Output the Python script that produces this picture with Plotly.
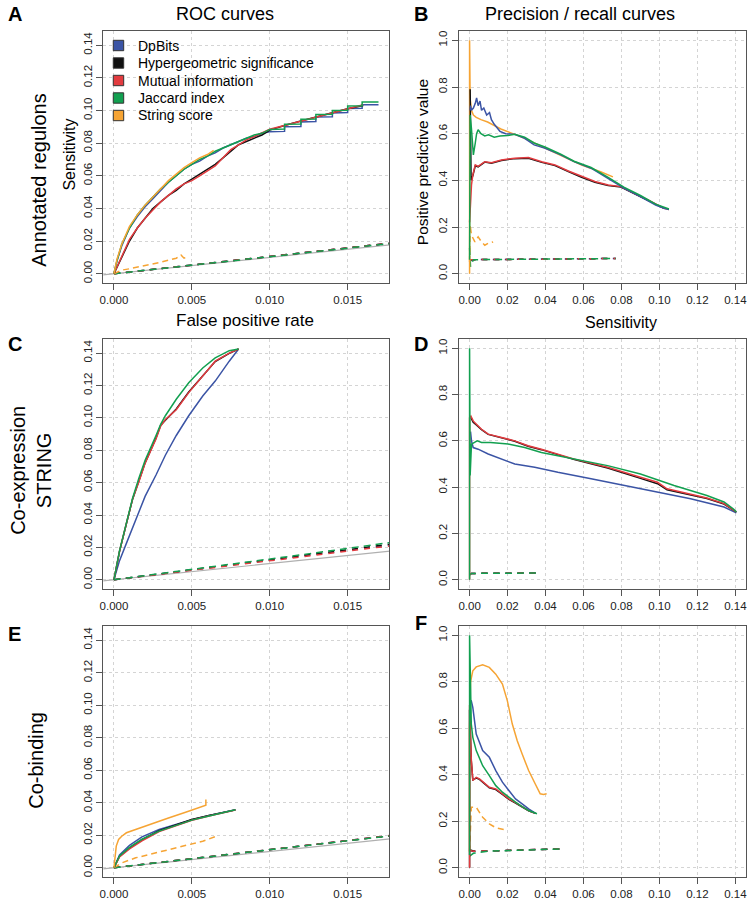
import plotly.graph_objects as go

# ---------------- colours / names ----------------
methods = ["DpBits", "Hypergeometric significance", "Mutual information", "Jaccard index", "String score"]
colors = {"blue": "#3B54A5", "black": "#111111", "red": "#E23B3F", "green": "#12A050", "orange": "#F6A434"}

# ---------------- Panel A: ROC, annotated regulons ----------------
A_step_x = [0, 0.0002, 0.0005, 0.001, 0.0015, 0.002, 0.0025, 0.003, 0.0035, 0.004, 0.0045, 0.005, 0.0055,
            0.006, 0.0065, 0.007, 0.0075, 0.008, 0.0085, 0.009, 0.0095, 0.0100, 0.01095, 0.01095, 0.0120,
            0.0120, 0.01296, 0.01296, 0.01402, 0.01402, 0.0150, 0.0150, 0.01593, 0.01593, 0.01698]
A_blue_y = [0, 0.008, 0.017, 0.028, 0.035, 0.041, 0.046, 0.051, 0.056, 0.060, 0.064, 0.067, 0.069, 0.072,
            0.074, 0.077, 0.079, 0.081, 0.083, 0.084, 0.086, 0.0870, 0.0872, 0.0900, 0.0902, 0.0930, 0.0932,
            0.0960, 0.0962, 0.0985, 0.0987, 0.1012, 0.1014, 0.1035, 0.1035]
A_green_y = [0, 0.008, 0.018, 0.028, 0.036, 0.042, 0.047, 0.052, 0.056, 0.060, 0.064, 0.067, 0.070, 0.072,
             0.075, 0.077, 0.079, 0.081, 0.083, 0.085, 0.086, 0.0884, 0.0886, 0.0915, 0.0917, 0.0946, 0.0948,
             0.0975, 0.0977, 0.1000, 0.1002, 0.1027, 0.1029, 0.1052, 0.1052]
A_mi_x = [0, 0.0002, 0.0005, 0.001, 0.0015, 0.002, 0.0025, 0.003, 0.0035, 0.004, 0.0045, 0.005, 0.0055, 0.006,
          0.0065, 0.007, 0.0075, 0.008, 0.0085, 0.009, 0.0095, 0.010, 0.011, 0.012, 0.013, 0.014, 0.015, 0.016]
A_red_y = [0, 0.004, 0.011, 0.021, 0.028, 0.034, 0.039, 0.044, 0.048, 0.052, 0.055, 0.057, 0.060, 0.063,
           0.066, 0.071, 0.076, 0.079, 0.082, 0.084, 0.086, 0.0885, 0.091, 0.0935, 0.096, 0.0985, 0.101, 0.1035]
A_black_y = [0, 0.004, 0.011, 0.020, 0.028, 0.034, 0.040, 0.044, 0.048, 0.051, 0.055, 0.058, 0.061, 0.064,
             0.067, 0.071, 0.075, 0.079, 0.081, 0.083, 0.085, 0.0880, 0.091, 0.0935, 0.096, 0.0985, 0.101, 0.103]
A_orange_x = [0, 0.0002, 0.0005, 0.001, 0.0015, 0.002, 0.0025, 0.003, 0.0035, 0.004, 0.0045, 0.005, 0.0055, 0.006, 0.0064]
A_orange_y = [0, 0.009, 0.018, 0.029, 0.036, 0.042, 0.047, 0.052, 0.057, 0.061, 0.065, 0.068, 0.071, 0.073, 0.0755]
A_orange_rnd_x = [0, 0.0005, 0.001, 0.002, 0.003, 0.004, 0.0043, 0.0045, 0.0047]
A_orange_rnd_y = [0, 0.0022, 0.003, 0.005, 0.007, 0.0095, 0.0115, 0.0095, 0.0105]
A_rnd_x = [0, 0.005, 0.010, 0.015, 0.020]
A_rnd_y = {"blue": [0, 0.0053, 0.0106, 0.0158, 0.0211], "black": [0, 0.0053, 0.0106, 0.0158, 0.0211],
           "red": [0, 0.0053, 0.0106, 0.0158, 0.0211], "green": [0, 0.0052, 0.0105, 0.0157, 0.0209]}

# ---------------- Panel B: PR, annotated regulons ----------------
B_blue_x = [0.0003, 0.0005, 0.001, 0.002, 0.003, 0.0037, 0.0045, 0.0055, 0.0063, 0.0075, 0.009, 0.0105, 0.0115,
            0.013, 0.016, 0.019, 0.0238, 0.029, 0.034, 0.0395, 0.048, 0.055, 0.064, 0.073, 0.0815, 0.090,
            0.098, 0.1024, 0.105]
B_blue_y = [0.70, 0.72, 0.70, 0.71, 0.73, 0.753, 0.72, 0.74, 0.70, 0.71, 0.68, 0.69, 0.66, 0.64, 0.61, 0.60,
            0.597, 0.58, 0.552, 0.538, 0.509, 0.48, 0.452, 0.409, 0.366, 0.33, 0.294, 0.28, 0.275]
B_black_x = [0.0003, 0.0008, 0.0017, 0.003, 0.0045, 0.007, 0.008, 0.0115, 0.0168, 0.0238, 0.031, 0.038, 0.045,
             0.052, 0.059, 0.066, 0.073, 0.0797, 0.0867, 0.094, 0.1024]
B_black_y = [0.79, 0.40, 0.42, 0.462, 0.458, 0.47, 0.478, 0.473, 0.485, 0.493, 0.495, 0.477, 0.463, 0.438,
             0.413, 0.392, 0.378, 0.371, 0.343, 0.315, 0.28]
B_red_x = [0, 0.0005, 0.001, 0.0017, 0.003, 0.0045, 0.007, 0.008, 0.0115, 0.0168, 0.0238, 0.031, 0.038, 0.045,
           0.052, 0.059, 0.066, 0.073, 0.0797, 0.0867, 0.094, 0.1024, 0.105]
B_red_y = [0.22, 0.308, 0.38, 0.423, 0.466, 0.46, 0.473, 0.48, 0.475, 0.487, 0.495, 0.498, 0.48, 0.466, 0.44,
           0.416, 0.395, 0.38, 0.373, 0.344, 0.316, 0.28, 0.275]
B_green_x = [0, 0.0003, 0.001, 0.002, 0.003, 0.0037, 0.0045, 0.006, 0.008, 0.010, 0.013, 0.016, 0.020, 0.0238,
             0.029, 0.034, 0.040, 0.048, 0.055, 0.064, 0.073, 0.0815, 0.090, 0.098, 0.105]
B_green_y = [0.06, 0.68, 0.62, 0.509, 0.56, 0.60, 0.617, 0.60, 0.59, 0.595, 0.585, 0.59, 0.592, 0.597, 0.585,
             0.56, 0.542, 0.512, 0.482, 0.455, 0.413, 0.37, 0.335, 0.298, 0.277]
B_orange_x = [0, 0, 0.0003, 0.001, 0.002, 0.0035, 0.006, 0.0095, 0.013, 0.0165, 0.0238, 0.029, 0.038, 0.048,
              0.059, 0.069, 0.0736, 0.0755]
B_orange_y = [0.0, 1.0, 0.75, 0.70, 0.68, 0.67, 0.66, 0.65, 0.635, 0.62, 0.597, 0.58, 0.545, 0.509, 0.466,
              0.437, 0.42, 0.415]
B_orange_rnd_x = [0, 0.0003, 0.001, 0.0028, 0.0045, 0.0063, 0.008, 0.0098, 0.0124]
B_orange_rnd_y = [0.05, 0.21, 0.165, 0.136, 0.158, 0.136, 0.122, 0.13, 0.136]
B_rnd_x = [0, 0.0005, 0.002, 0.02, 0.04, 0.06, 0.077]
B_rnd_y = {"blue": [0.06, 0.055, 0.06, 0.061, 0.062, 0.064, 0.065], "black": [0.06, 0.06, 0.06, 0.061, 0.062, 0.064, 0.065],
           "red": [0.06, 0.06, 0.06, 0.061, 0.062, 0.064, 0.065], "green": [0.11, 0.03, 0.06, 0.061, 0.062, 0.064, 0.065]}

# ---------------- Panel C: ROC, co-expression STRING ----------------
C_x = [0, 0.00036, 0.00078, 0.0012, 0.0016, 0.0020, 0.0027, 0.0030, 0.0033, 0.004, 0.0048, 0.0057, 0.0065,
       0.0074, 0.0080]
C_green_y = [0, 0.0179, 0.0342, 0.0505, 0.0627, 0.0738, 0.0891, 0.0960, 0.1013, 0.1115, 0.1217, 0.1308, 0.137,
             0.1415, 0.1425]
C_red_y = [0, 0.0175, 0.034, 0.050, 0.0606, 0.072, 0.087, 0.095, 0.099, 0.105, 0.1156, 0.1257, 0.135, 0.140, 0.1425]
C_black_y = [0, 0.0176, 0.0338, 0.0498, 0.0610, 0.0722, 0.0875, 0.0955, 0.0985, 0.1055, 0.1160, 0.1260, 0.1348,
             0.1398, 0.1425]
C_blue_y = [0, 0.0118, 0.022, 0.032, 0.0423, 0.0515, 0.0647, 0.0710, 0.0769, 0.0891, 0.1013, 0.1135, 0.1227,
            0.1350, 0.1425]
C_rnd_x = [0, 0.004, 0.008, 0.012, 0.016, 0.020]
C_rnd_y = {"blue": [0, 0.0047, 0.0096, 0.0145, 0.0194, 0.0243], "black": [0, 0.0048, 0.0098, 0.0148, 0.0198, 0.0248],
           "red": [0, 0.0046, 0.0093, 0.0141, 0.0189, 0.0236], "green": [0, 0.0050, 0.0102, 0.0154, 0.0207, 0.0260]}

# ---------------- Panel D: PR, co-expression STRING ----------------
D_green_x = [0, 0, 0.0003, 0.001, 0.0025, 0.004, 0.0063, 0.011, 0.0203, 0.029, 0.0378, 0.0552, 0.0727, 0.090,
             0.1077, 0.125, 0.134, 0.139, 0.1405]
D_green_y = [0.0, 1.0, 0.45, 0.586, 0.593, 0.60, 0.593, 0.593, 0.586, 0.571, 0.55, 0.521, 0.493, 0.457, 0.407,
             0.364, 0.336, 0.305, 0.293]
D_red_x = [0, 0, 0.0007, 0.0019, 0.0037, 0.0063, 0.0098, 0.0168, 0.0238, 0.0308, 0.0378, 0.0552, 0.0727, 0.090,
           0.099, 0.104, 0.1164, 0.125, 0.134, 0.1405]
D_red_y = [0.0, 0.70, 0.707, 0.686, 0.671, 0.65, 0.629, 0.614, 0.60, 0.579, 0.564, 0.521, 0.486, 0.443, 0.421,
           0.393, 0.371, 0.353, 0.329, 0.293]
D_black_x = [0.0007, 0.0019, 0.0037, 0.0063, 0.0098, 0.0168, 0.0238, 0.0308, 0.0378, 0.0552, 0.0727, 0.090,
             0.099, 0.104, 0.1164, 0.125, 0.134, 0.1405]
D_black_y = [0.70, 0.68, 0.668, 0.648, 0.628, 0.612, 0.598, 0.577, 0.562, 0.519, 0.483, 0.438, 0.415, 0.389,
             0.368, 0.351, 0.327, 0.293]
D_blue_x = [0.0005, 0.001, 0.0019, 0.0045, 0.0098, 0.0168, 0.0238, 0.0343, 0.0465, 0.064, 0.0815, 0.099, 0.1164,
            0.134, 0.1405]
D_blue_y = [0.64, 0.60, 0.571, 0.564, 0.543, 0.521, 0.50, 0.486, 0.464, 0.436, 0.407, 0.379, 0.35, 0.314, 0.289]
D_rnd_x = [0, 0.001, 0.01, 0.02, 0.0357]
D_rnd_y = {"blue": [0.025, 0.027, 0.028, 0.029, 0.029], "black": [0.025, 0.027, 0.028, 0.029, 0.029],
           "red": [0.025, 0.027, 0.028, 0.029, 0.029], "green": [0.02, 0.027, 0.028, 0.029, 0.029]}

# ---------------- Panel E: ROC, co-binding ----------------
E_x = [0, 0.00036, 0.001, 0.0018, 0.0029, 0.004, 0.005, 0.0061, 0.0069, 0.0078]
E_green_y = [0, 0.0072, 0.0125, 0.0175, 0.0225, 0.0262, 0.0293, 0.0318, 0.0335, 0.0357]
E_blue_y = [0, 0.0078, 0.0138, 0.0190, 0.0235, 0.0268, 0.0296, 0.0321, 0.0337, 0.0357]
E_black_y = [0, 0.0070, 0.0122, 0.0172, 0.0228, 0.0265, 0.0297, 0.0322, 0.0338, 0.0356]
E_red_y = [0, 0.0066, 0.0116, 0.0166, 0.0222, 0.0260, 0.0292, 0.0318, 0.0334, 0.0355]
E_orange_x = [0, 0.00015, 0.0003, 0.0005, 0.0008, 0.0014, 0.0025, 0.0035, 0.0046, 0.0057, 0.0059, 0.0059]
E_orange_y = [0, 0.0133, 0.0174, 0.0194, 0.0215, 0.0235, 0.0276, 0.0306, 0.0341, 0.0378, 0.0385, 0.042]
E_orange_rnd_x = [0, 0.0005, 0.0014, 0.0035, 0.0057, 0.0067]
E_orange_rnd_y = [0, 0.003, 0.0061, 0.0112, 0.0163, 0.0198]
E_rnd_x = [0, 0.005, 0.010, 0.015, 0.020]
E_rnd_y = {"blue": [0, 0.0056, 0.0112, 0.0167, 0.0223], "black": [0, 0.0056, 0.0111, 0.0166, 0.0222],
           "red": [0, 0.0056, 0.0112, 0.0167, 0.0223], "green": [0, 0.0055, 0.0110, 0.0166, 0.0221]}

# ---------------- Panel F: PR, co-binding ----------------
F_orange_x = [0, 0, 0.0005, 0.0017, 0.0035, 0.0069, 0.0104, 0.0138, 0.0173, 0.0199, 0.0225, 0.0251, 0.0277,
              0.0311, 0.0346, 0.0372, 0.0389, 0.0406]
F_orange_y = [0.07, 0.60, 0.80, 0.847, 0.864, 0.873, 0.862, 0.833, 0.79, 0.718, 0.618, 0.546, 0.489, 0.418,
              0.36, 0.318, 0.315, 0.318]
F_blue_x = [0.0002, 0.0009, 0.0017, 0.0035, 0.0069, 0.0104, 0.0138, 0.0173, 0.0207, 0.0242, 0.0277, 0.0311, 0.0346]
F_blue_y = [0.72, 0.718, 0.69, 0.575, 0.504, 0.475, 0.418, 0.368, 0.332, 0.296, 0.275, 0.253, 0.235]
F_green_x = [0, 0, 0.0009, 0.0017, 0.0035, 0.0069, 0.0104, 0.0138, 0.0173, 0.0207, 0.0242, 0.0277, 0.0311, 0.0355]
F_green_y = [0.055, 1.0, 0.618, 0.561, 0.504, 0.439, 0.396, 0.353, 0.325, 0.303, 0.282, 0.263, 0.246, 0.232]
F_red_x = [0, 0, 0.0009, 0.0017, 0.0035, 0.0052, 0.0104, 0.0138, 0.0173, 0.0207, 0.0242, 0.0277, 0.0311, 0.0346]
F_red_y = [0.0, 0.70, 0.468, 0.375, 0.389, 0.382, 0.346, 0.339, 0.318, 0.296, 0.28, 0.262, 0.246, 0.234]
F_black_y = [0.0, 0.68, 0.46, 0.378, 0.386, 0.380, 0.344, 0.336, 0.315, 0.294, 0.278, 0.260, 0.245, 0.234]
F_orange_rnd_x = [0, 0.0009, 0.0035, 0.0069, 0.0104, 0.0138, 0.019]
F_orange_rnd_y = [0.07, 0.26, 0.26, 0.217, 0.189, 0.172, 0.163]
F_rnd_x = [0, 0.002, 0.01, 0.02, 0.03, 0.04, 0.0498]
F_rnd_y = {"blue": [0.074, 0.070, 0.072, 0.074, 0.076, 0.078, 0.0815], "black": [0.078, 0.072, 0.072, 0.074, 0.076, 0.078, 0.0815],
           "red": [0.074, 0.071, 0.072, 0.074, 0.076, 0.078, 0.0815], "green": [0.05, 0.062, 0.071, 0.074, 0.076, 0.078, 0.0815]}

diag_x = [-0.001, 0.02]

# ---------------- figure ----------------
FW, FH = 750, 900
fig = go.Figure()

def px_x(p):
    return p / FW

def px_y(p):
    return 1 - p / FH

colL = [px_x(100), px_x(388)]
colR = [px_x(458), px_x(747)]
rows = [[px_y(283), px_y(31)], [px_y(589), px_y(339)], [px_y(877), px_y(626)]]

LW = 1.5
dash_pat = {"blue": "6px,6px", "black": "6px,6px", "red": "6px,6px", "green": "7px,5px", "orange": "6px,4px"}

def line(n, xs, ys, col, dashed=False, width=LW):
    fig.add_trace(go.Scatter(
        x=xs, y=ys, mode="lines", showlegend=False, hoverinfo="skip",
        line=dict(color=colors[col], width=width, dash=dash_pat[col] if dashed else "solid"),
        xaxis="x" if n == 1 else f"x{n}", yaxis="y" if n == 1 else f"y{n}"))

def diag(n):
    fig.add_trace(go.Scatter(x=diag_x, y=diag_x, mode="lines", showlegend=False, hoverinfo="skip",
                             line=dict(color="#b0b0b0", width=1.2),
                             xaxis="x" if n == 1 else f"x{n}", yaxis="y" if n == 1 else f"y{n}"))

# Panel A
diag(1)
for c in ["blue", "black", "red", "green"]:
    line(1, A_rnd_x, A_rnd_y[c], c, dashed=True)
line(1, A_orange_rnd_x, A_orange_rnd_y, "orange", dashed=True)
line(1, A_step_x, A_blue_y, "blue")
line(1, A_mi_x, A_black_y, "black")
line(1, A_mi_x, A_red_y, "red")
line(1, A_step_x, A_green_y, "green")
line(1, A_orange_x, A_orange_y, "orange")

# Panel B
for c in ["blue", "black", "red", "green"]:
    line(2, B_rnd_x, B_rnd_y[c], c, dashed=True)
line(2, B_orange_rnd_x, B_orange_rnd_y, "orange", dashed=True)
line(2, B_orange_x, B_orange_y, "orange")
line(2, B_black_x, B_black_y, "black")
line(2, B_red_x, B_red_y, "red")
line(2, B_blue_x, B_blue_y, "blue")
line(2, B_green_x, B_green_y, "green")

# Panel C
diag(3)
for c in ["blue", "black", "red", "green"]:
    line(3, C_rnd_x, C_rnd_y[c], c, dashed=True)
line(3, C_x, C_blue_y, "blue")
line(3, C_x, C_black_y, "black")
line(3, C_x, C_red_y, "red")
line(3, C_x, C_green_y, "green")

# Panel D
for c in ["blue", "black", "red", "green"]:
    line(4, D_rnd_x, D_rnd_y[c], c, dashed=True)
line(4, D_blue_x, D_blue_y, "blue")
line(4, D_black_x, D_black_y, "black")
line(4, D_red_x, D_red_y, "red")
line(4, D_green_x, D_green_y, "green")

# Panel E
diag(5)
for c in ["blue", "black", "red", "green"]:
    line(5, E_rnd_x, E_rnd_y[c], c, dashed=True)
line(5, E_orange_rnd_x, E_orange_rnd_y, "orange", dashed=True)
line(5, E_x, E_blue_y, "blue")
line(5, E_x, E_black_y, "black")
line(5, E_x, E_red_y, "red")
line(5, E_x, E_green_y, "green")
line(5, E_orange_x, E_orange_y, "orange")

# Panel F
for c in ["blue", "black", "red", "green"]:
    line(6, F_rnd_x, F_rnd_y[c], c, dashed=True)
line(6, F_orange_rnd_x, F_orange_rnd_y, "orange", dashed=True)
line(6, F_orange_x, F_orange_y, "orange")
line(6, F_red_x, F_black_y, "black")
line(6, F_red_x, F_red_y, "red")
line(6, F_blue_x, F_blue_y, "blue")
line(6, F_green_x, F_green_y, "green")

FONT = "Liberation Sans, Arial, Helvetica, sans-serif"
FR = "#555555"

def axis_common():
    return dict(showline=True, mirror=True, linecolor=FR, linewidth=1,
                ticks="outside", ticklen=6, tickcolor=FR, tickwidth=1,
                showgrid=True, gridcolor="#d4d4d4", griddash="dot", gridwidth=1,
                zeroline=False, tickfont=dict(size=11.5, color="#222", family=FONT))

roc_x = dict(range=[-0.00068, 0.01768], tickvals=[0, 0.005, 0.010, 0.015], tickformat=".3f")
roc_y = dict(range=[-0.0057, 0.1487], tickvals=[0, 0.02, 0.04, 0.06, 0.08, 0.10, 0.12, 0.14], tickformat=".2f", tickangle=-90)
pr_x = dict(range=[-0.0056, 0.1456], tickvals=[0, 0.02, 0.04, 0.06, 0.08, 0.10, 0.12, 0.14], tickformat=".2f")
pr_y = dict(range=[-0.04, 1.04], tickvals=[0, 0.2, 0.4, 0.6, 0.8, 1.0], tickformat=".1f", tickangle=-90)

layout_axes = {}
for n in range(1, 7):
    r = (n - 1) // 2
    left = (n % 2 == 1)
    xk = "xaxis" if n == 1 else f"xaxis{n}"
    yk = "yaxis" if n == 1 else f"yaxis{n}"
    xa = axis_common(); ya = axis_common()
    xa.update(roc_x if left else pr_x)
    ya.update(roc_y if left else pr_y)
    xa.update(domain=colL if left else colR, anchor="y" if n == 1 else f"y{n}")
    ya.update(domain=rows[r], anchor="x" if n == 1 else f"x{n}")
    layout_axes[xk] = xa
    layout_axes[yk] = ya

fig.update_layout(**layout_axes)

ann = []
def text(t, x, y, size, bold=False, angle=0, xanchor="center"):
    ann.append(dict(text=f"<b>{t}</b>" if bold else t, x=px_x(x), y=px_y(y), xref="paper", yref="paper",
                    showarrow=False, textangle=angle, xanchor=xanchor, yanchor="middle",
                    font=dict(size=size, color="#000", family=FONT)))

text("ROC curves", 222, 14, 18)
text("Precision / recall curves", 580, 14, 18)
text("A", 11, 14, 20, bold=True)
text("B", 420, 14, 20, bold=True)
text("C", 11, 344, 20, bold=True)
text("D", 420, 344, 20, bold=True)
text("E", 11, 634, 20, bold=True)
text("F", 420, 623, 20, bold=True)
text("Sensitivity", 65, 155, 16, angle=-90)
text("Positive predictive value", 422, 162, 15.5, angle=-90)
text("False positive rate", 243, 320, 17)
text("Sensitivity", 621, 322, 16)
text("Annotated regulons", 35, 180, 20, angle=-90)
text("Co-expression<br>STRING", 27, 470, 20, angle=-90)
text("Co-binding", 32, 760, 20, angle=-90)

# legend drawn as key squares + labels inside panel A
shapes = []
leg_y = [45.5, 63.0, 80.5, 98.0, 115.5]
for name, c, yy in zip(methods, ["blue", "black", "red", "green", "orange"], leg_y):
    shapes.append(dict(type="rect", xref="paper", yref="paper",
                       x0=px_x(110), x1=px_x(120.5), y0=px_y(yy + 5.2), y1=px_y(yy - 5.2),
                       fillcolor=colors[c], line=dict(color="#333333", width=1)))
    text(name, 133, yy, 14, xanchor="left")

fig.update_layout(
    width=FW, height=FH, margin=dict(l=0, r=0, t=0, b=0),
    paper_bgcolor="white", plot_bgcolor="white",
    font=dict(family=FONT),
    annotations=ann, shapes=shapes,
    showlegend=False,
)

# remove the page's default 8px body margin so the 750x900 figure fills the window exactly
fig.write_html("out.html", config={"displayModeBar": False},
               post_script="document.body.style.margin='0px';")
